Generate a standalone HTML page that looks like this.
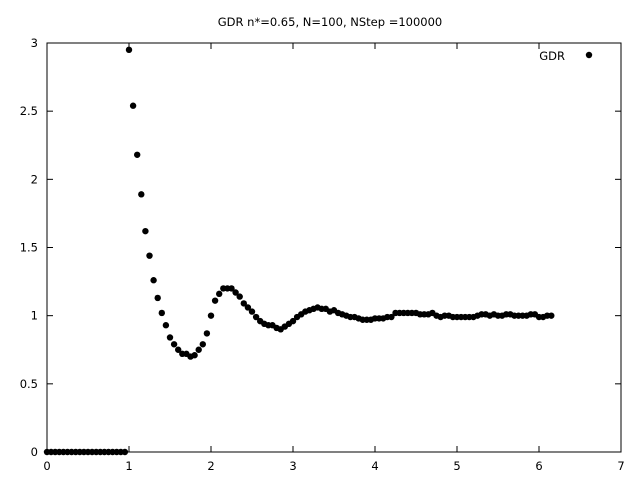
<!DOCTYPE html>
<html><head><meta charset="utf-8"><style>
body{margin:0;background:#fff}
svg{display:block;font-family:"DejaVu Sans","Liberation Sans",sans-serif;font-size:11.5px}
</style></head><body>
<svg id="chart" width="640" height="480" xmlns="http://www.w3.org/2000/svg">
<rect width="640" height="480" fill="#fff"/>
<text x="330" y="26" text-anchor="middle">GDR n*=0.65, N=100, NStep =100000</text>
<rect x="47" y="43" width="574" height="409" fill="none" stroke="#000" stroke-width="1"/>
<g id="axes"></g>
<g id="points"></g>
<text x="565" y="60" text-anchor="end">GDR</text>
<circle cx="589" cy="55" r="3.2" fill="#000"/>
</svg>
<script>
const xStart = 0, xStep = 0.05;
const gdrValues = [0,0,0,0,0,0,0,0,0,0,0,0,0,0,0,0,0,0,0,0,
2.95,2.54,2.18,1.89,1.62,1.44,1.26,1.13,1.02,0.93,0.84,0.79,0.75,0.72,0.72,0.70,0.71,0.75,0.79,0.87,
1.00,1.11,1.16,1.20,1.20,1.20,1.17,1.14,1.09,1.06,1.03,0.99,0.96,0.94,0.93,0.93,0.91,0.90,0.92,0.94,
0.96,0.99,1.01,1.03,1.04,1.05,1.06,1.05,1.05,1.03,1.04,1.02,1.01,1.00,0.99,0.99,0.98,0.97,0.97,0.97,
0.98,0.98,0.98,0.99,0.99,1.02,1.02,1.02,1.02,1.02,1.02,1.01,1.01,1.01,1.02,1.00,0.99,1.00,1.00,0.99,
0.99,0.99,0.99,0.99,0.99,1.00,1.01,1.01,1.00,1.01,1.00,1.00,1.01,1.01,1.00,1.00,1.00,1.00,1.01,1.01,
0.99,0.99,1.00,1.00];
const xTicks = [0,1,2,3,4,5,6,7];
const yTicks = [0,0.5,1,1.5,2,2.5,3];
const yTickLabels = ["0","0.5","1","1.5","2","2.5","3"];

const L=47,R=621,T=43,B=452;
const xs = v => L + (v-0)/(7-0)*(R-L);
const ys = v => B - (v-0)/(3-0)*(B-T);
const NS="http://www.w3.org/2000/svg";
const axes=document.getElementById('axes');
function mk(tag,attrs,parent){const e=document.createElementNS(NS,tag);for(const k in attrs)e.setAttribute(k,attrs[k]);parent.appendChild(e);return e;}
xTicks.forEach(t=>{
  const x=xs(t);
  const l1=mk('line',{x1:x,y1:B,x2:x,y2:B-6,stroke:'#000'},axes);
  
  
  const l2=mk('line',{x1:x,y1:T,x2:x,y2:T+6,stroke:'#000'},axes);
  
  
  const tx=mk('text',{x:x,y:B+18,'text-anchor':'middle'},axes);
  tx.textContent=String(t);
  
  
});
yTicks.forEach((t,i)=>{
  const y=ys(t);
  const l1=mk('line',{x1:L,y1:y,x2:L+6,y2:y,stroke:'#000'},axes);
  
  
  const l2=mk('line',{x1:R,y1:y,x2:R-6,y2:y,stroke:'#000'},axes);
  
  
  const tx=mk('text',{x:L-9,y:y+4,'text-anchor':'end'},axes);
  tx.textContent=yTickLabels[i];
  
  
});
const pts=document.getElementById('points');
gdrValues.forEach((v,i)=>{
  const c=mk('circle',{cx:xs(xStart+i*xStep),cy:ys(v),r:3.2,fill:'#000'},pts);
  
  
});
</script>
</body></html>
